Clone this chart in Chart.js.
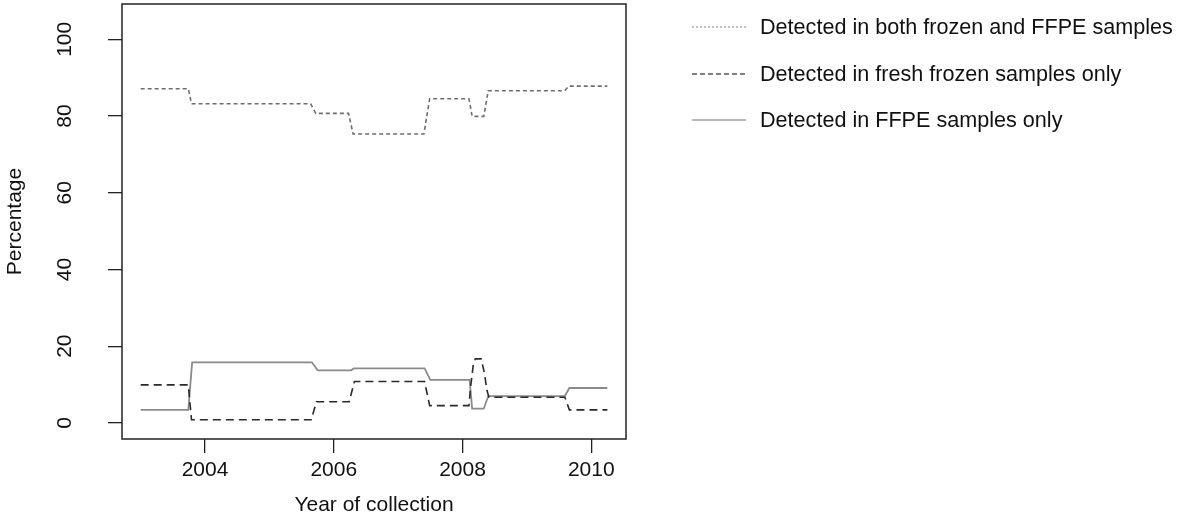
<!DOCTYPE html>
<html>
<head>
<meta charset="utf-8">
<script src="https://cdn.jsdelivr.net/npm/chart.js@4/dist/chart.umd.min.js"></script>
<style>
  html, body { margin: 0; padding: 0; background: #fff; }
  #wrap { width: 1177px; height: 519px; }
</style>
</head>
<body>
<div id="wrap"><canvas id="chart" width="1177" height="519"></canvas></div>
<script>
// Series (year of collection -> percentage)
const seriesLabels = [
    'Detected in both frozen and FFPE samples',
    'Detected in fresh frozen samples only',
    'Detected in FFPE samples only'
];

const bothYears = [2003.0, 2003.74, 2003.79, 2005.64, 2005.72, 2006.23, 2006.30, 2007.40,
    2007.49, 2008.10, 2008.15, 2008.33, 2008.40, 2009.59, 2009.65, 2010.25];
const bothPct = [87.1, 87.1, 83.2, 83.2, 80.7, 80.7, 75.3, 75.3,
    84.5, 84.5, 79.9, 79.9, 86.6, 86.6, 87.8, 87.8];

const frozenYears = [2003.0, 2003.74, 2003.79, 2005.65, 2005.73, 2006.24, 2006.32, 2007.41,
    2007.49, 2008.10, 2008.13, 2008.17, 2008.20, 2008.29, 2008.34, 2008.38, 2008.41,
    2009.59, 2009.66, 2010.25];
const frozenPct = [9.9, 9.9, 0.8, 0.8, 5.5, 5.5, 10.8, 10.8,
    4.5, 4.5, 10.0, 15.5, 16.7, 16.7, 13.0, 8.5, 6.7,
    6.7, 3.4, 3.4];

const ffpeYears = [2003.0, 2003.74, 2003.80, 2005.66, 2005.75, 2006.27, 2006.31, 2007.41,
    2007.50, 2008.11, 2008.15, 2008.33, 2008.40, 2009.59, 2009.66, 2010.25];
const ffpePct = [3.4, 3.4, 15.8, 15.8, 13.7, 13.7, 14.2, 14.2,
    11.2, 11.2, 3.7, 3.7, 7.0, 7.0, 9.1, 9.1];

const xTicks = [2004, 2006, 2008, 2010];
const yTicks = [0, 20, 40, 60, 80, 100];

const FONT = '"Liberation Sans", Arial, Helvetica, sans-serif';

function toPoints(xs, ys) {
    return xs.map((x, i) => ({ x: x, y: ys[i] }));
}

// legend swatches are drawn lighter than the lines, as in the original
const legendStyles = [
    { color: '#b0b0b0', dash: [2, 2], width: 1.5 },
    { color: '#808080', dash: [5, 3], width: 2 },
    { color: '#b8b8b8', dash: [], width: 2 }
];

const boxPlugin = {
    id: 'boxAndLegend',
    afterDraw(chart) {
        const { ctx, chartArea } = chart;
        ctx.save();
        ctx.strokeStyle = '#222';
        ctx.lineWidth = 1.5;
        ctx.strokeRect(chartArea.left, chartArea.top,
            chartArea.right - chartArea.left, chartArea.bottom - chartArea.top);

        // legend to the right of the plot
        const rowY = [27, 74, 120];
        ctx.font = '21.6px ' + FONT;
        ctx.textBaseline = 'middle';
        ctx.textAlign = 'left';
        chart.data.datasets.forEach((ds, i) => {
            const st = legendStyles[i];
            ctx.beginPath();
            ctx.setLineDash(st.dash);
            ctx.strokeStyle = st.color;
            ctx.lineWidth = st.width;
            ctx.moveTo(692, rowY[i]);
            ctx.lineTo(746, rowY[i]);
            ctx.stroke();
            ctx.setLineDash([]);
            ctx.fillStyle = '#111';
            ctx.fillText(ds.label, 760, rowY[i] + 1);
        });
        ctx.restore();
    }
};

function noEdgePadding(scale) {
    scale.paddingTop = 0;
    scale.paddingBottom = 0;
    scale.paddingLeft = 0;
    scale.paddingRight = 0;
}

const chart = new Chart(document.getElementById('chart'), {
    type: 'line',
    data: {
        datasets: [
            {
                label: seriesLabels[0],
                data: toPoints(bothYears, bothPct),
                borderColor: '#6e6e6e',
                borderWidth: 1.6,
                borderDash: [4, 3]
            },
            {
                label: seriesLabels[1],
                data: toPoints(frozenYears, frozenPct),
                borderColor: '#2a2a2a',
                borderWidth: 1.6,
                borderDash: [8, 5]
            },
            {
                label: seriesLabels[2],
                data: toPoints(ffpeYears, ffpePct),
                borderColor: '#8a8a8a',
                borderWidth: 1.8
            }
        ]
    },
    options: {
        responsive: false,
        animation: false,
        devicePixelRatio: 1,
        elements: {
            point: { radius: 0, hoverRadius: 0 },
            line: { tension: 0, fill: false }
        },
        layout: { padding: { top: 4, right: 551, left: 0, bottom: 0 } },
        plugins: {
            legend: { display: false },
            tooltip: { enabled: false }
        },
        scales: {
            x: {
                type: 'linear',
                min: 2002.71,
                max: 2010.54,
                afterFit: (scale) => { scale.height = 80; noEdgePadding(scale); },
                afterBuildTicks: (scale) => { scale.ticks = xTicks.map(v => ({ value: v })); },
                grid: {
                    display: true,
                    drawOnChartArea: false,
                    drawTicks: true,
                    tickLength: 14,
                    color: '#222',
                    lineWidth: 1.3
                },
                border: { display: false },
                ticks: {
                    autoSkip: false,
                    maxRotation: 0,
                    padding: 5,
                    color: '#111',
                    font: { family: FONT, size: 21 },
                    callback: (v) => String(v)
                },
                title: {
                    display: true,
                    text: 'Year of collection',
                    color: '#111',
                    font: { family: FONT, size: 21 },
                    padding: { top: 0, bottom: 1 }
                }
            },
            y: {
                type: 'linear',
                min: -4.2,
                max: 109.2,
                afterFit: (scale) => { scale.width = 122; noEdgePadding(scale); },
                afterBuildTicks: (scale) => { scale.ticks = yTicks.map(v => ({ value: v })); },
                grid: {
                    display: true,
                    drawOnChartArea: false,
                    drawTicks: true,
                    tickLength: 14,
                    color: '#222',
                    lineWidth: 1.3
                },
                border: { display: false },
                ticks: {
                    autoSkip: false,
                    minRotation: 90,
                    maxRotation: 90,
                    crossAlign: 'center',
                    padding: 25,
                    color: '#111',
                    font: { family: FONT, size: 21 },
                    callback: (v) => String(v)
                },
                title: {
                    display: true,
                    text: 'Percentage',
                    color: '#111',
                    font: { family: FONT, size: 21 },
                    padding: { top: 3, bottom: 0 }
                }
            }
        }
    },
    plugins: [boxPlugin]
});
</script>
</body>
</html>
